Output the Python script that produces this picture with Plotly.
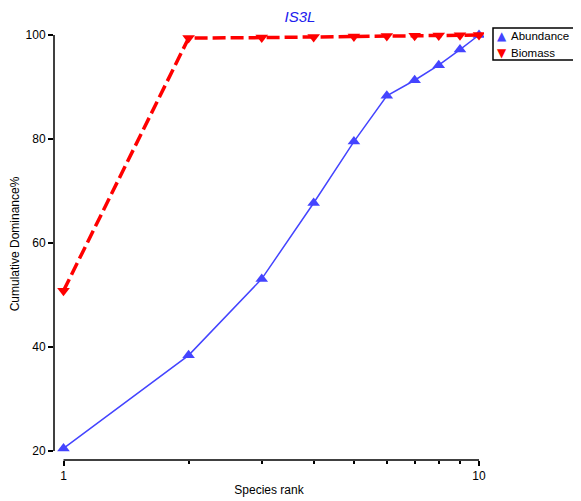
import plotly.graph_objects as go

species_rank = [1, 2, 3, 4, 5, 6, 7, 8, 9, 10]
abundance = [20.5, 38.4, 53.1, 67.7, 79.5, 88.3, 91.3, 94.2, 97.2, 100.0]
biomass = [50.8, 99.4, 99.5, 99.6, 99.7, 99.8, 99.85, 99.9, 99.95, 100.0]
y_ticks = [20, 40, 60, 80, 100]
x_ticks = [1, 10]
x_minor = [2, 3, 4, 5, 6, 7, 8, 9]
series_names = ["Abundance", "Biomass"]

BLUE = "#4444ff"
RED = "#ff0000"
FONT = "Liberation Sans, Arial, sans-serif"

# page body has an 8px margin; figure is sized so it fills the window
OFF = 8
W, H = 581 - OFF, 501 - OFF
# plot area in window pixels
PL, PR, PT, PB = 54, 484, 28, 460
L, R, T, B = PL - OFF, W - (PR - OFF), PT - OFF, H - (PB - OFF)
plot_w = PR - PL
plot_h = PB - PT


def px(xw):
    return (xw - PL) / plot_w


def py(yw):
    return (PB - yw) / plot_h


px_per_dec = 415.5
x_lo = 0 - (63.5 - PL) / px_per_dec
x_hi = x_lo + plot_w / px_per_dec
px_per_unit = 5.2
y_lo = 20 - (PB - 451) / px_per_unit
y_hi = y_lo + plot_h / px_per_unit

fig = go.Figure()
fig.add_trace(go.Scatter(
    x=species_rank, y=abundance, mode="lines+markers", name=series_names[0],
    line=dict(color=BLUE, width=1.5),
    marker=dict(symbol="triangle-up", size=11, color=BLUE),
    showlegend=False,
))
fig.add_trace(go.Scatter(
    x=species_rank, y=biomass, mode="lines+markers", name=series_names[1],
    line=dict(color=RED, width=3.5, dash="13px,5px"),
    marker=dict(symbol="triangle-down", size=11, color=RED),
    showlegend=False,
))

# compact boxed legend (as in the reference)
legend_ann = []
for i, (nm, glyph, col) in enumerate(zip(series_names, ["▲", "▼"], [BLUE, RED])):
    yrow = 36 + 17 * i
    legend_ann.append(dict(xref="paper", yref="paper", x=px(495), y=py(yrow),
                           xanchor="left", yanchor="middle", showarrow=False,
                           text=f"<span style='color:{col}'>{glyph}</span>",
                           font=dict(size=12, family="DejaVu Sans", color=col)))
    legend_ann.append(dict(xref="paper", yref="paper", x=px(509), y=py(yrow),
                           xanchor="left", yanchor="middle", showarrow=False,
                           text=nm, font=dict(size=11.5, family=FONT, color="black")))

fig.update_layout(
    width=W, height=H,
    margin=dict(l=L, r=R, t=T, b=B, autoexpand=False),
    plot_bgcolor="white", paper_bgcolor="white",
    font=dict(family=FONT, size=12, color="black"),
    showlegend=False,
    title=dict(text="<i>IS3L</i>", x=px(300), xref="paper", xanchor="center",
               y=1 - (17 - OFF) / H, yref="container", yanchor="middle",
               font=dict(size=15, color="#2020ee", family=FONT)),
    xaxis=dict(
        type="log", range=[x_lo, x_hi], showgrid=False, zeroline=False, showline=False,
        tickmode="array", tickvals=x_ticks, ticktext=[str(v) for v in x_ticks],
        ticks="outside", ticklen=5, tickwidth=1.5, tickcolor="black",
        minor=dict(tickmode="array", tickvals=x_minor, ticks="outside", ticklen=3,
                   tickwidth=1.5, tickcolor="black", showgrid=False),
        title=dict(text="Species rank", standoff=3, font=dict(size=12)),
        tickfont=dict(size=12),
    ),
    yaxis=dict(
        range=[y_lo, y_hi], showgrid=False, zeroline=False, showline=False,
        tickmode="array", tickvals=y_ticks,
        ticks="outside", ticklen=5, tickwidth=1.5, tickcolor="black",
        title=dict(text="Cumulative Dominance%", standoff=4, font=dict(size=12)),
        tickfont=dict(size=12),
    ),
    annotations=legend_ann,
    shapes=[
        dict(type="line", xref="paper", yref="y", x0=0, x1=0, y0=y_ticks[0], y1=y_ticks[-1],
             line=dict(color="black", width=1.5)),
        dict(type="line", xref="paper", yref="paper",
             x0=px(63.5), x1=px(63.5 + px_per_dec), y0=0, y1=0,
             line=dict(color="black", width=1.5)),
        dict(type="rect", xref="paper", yref="paper",
             x0=px(493), x1=px(577), y0=py(60), y1=py(28),
             line=dict(color="black", width=1.5), fillcolor="rgba(0,0,0,0)"),
    ],
)

fig.write_html("out.html")
